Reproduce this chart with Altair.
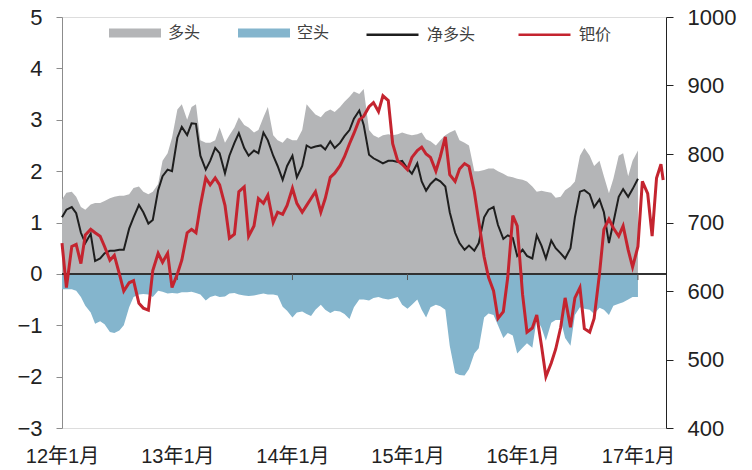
import altair as alt
import pandas as pd

FONT = "Liberation Sans, Arial, Noto Sans CJK SC, sans-serif"

# semi-monthly date grid (1st and 15th of each month) starting Jan 2012
def semi_monthly(n):
    out = []
    y, m = 2012, 1
    while len(out) < n:
        for d in (1, 15):
            out.append(f"{y}/{m:02d}/{d:02d}")
        m += 1
        if m > 12:
            m, y = 1, y + 1
    return out[:n]

# 多头 (long positions)
long_pos = [
    1.45, 1.58, 1.60, 1.50, 1.30, 1.25, 1.35, 1.38, 1.38, 1.42,
    1.47, 1.50, 1.52, 1.52, 1.55, 1.67, 1.70, 1.60, 1.55, 1.60,
    1.75, 2.20, 2.35, 2.65, 3.20, 3.30, 3.00, 3.25, 3.30, 2.60,
    2.55, 2.55, 2.60, 2.85, 2.55, 2.70, 2.85, 3.05, 2.90, 2.85,
    2.75, 2.80, 3.05, 3.25, 2.70, 2.60, 2.55, 2.65, 2.60, 2.60,
    2.80, 3.30, 3.20, 3.10, 3.05, 3.15, 3.20, 3.15, 3.25, 3.35,
    3.45, 3.55, 3.50, 3.60, 2.80, 2.70, 2.65, 2.70, 2.72, 2.70,
    2.72, 2.75, 2.72, 2.70, 2.72, 2.75, 2.62, 2.58, 2.50, 2.60,
    2.70, 2.75, 2.80, 2.60, 2.55, 2.50, 2.00, 2.00, 2.02, 2.05,
    2.05, 2.00, 1.95, 1.90, 1.88, 1.85, 1.83, 1.80, 1.70, 1.60,
    1.62, 1.60, 1.58, 1.48, 1.50, 1.63, 1.70, 1.80, 2.30, 2.45,
    2.30, 2.10, 2.20, 1.90, 1.57, 1.85, 2.30, 2.35, 1.90, 2.20,
    2.40,
]

# 空头 (short positions)
short_pos = [
    -0.30, -0.30, -0.30, -0.33, -0.45, -0.62, -0.75, -0.97, -0.92, -0.98,
    -1.13, -1.15, -1.10, -1.00, -0.65, -0.45, -0.40, -0.39, -0.40, -0.45,
    -0.33, -0.35, -0.38, -0.37, -0.38, -0.36, -0.36, -0.35, -0.37, -0.40,
    -0.52, -0.45, -0.42, -0.45, -0.44, -0.38, -0.37, -0.40, -0.42, -0.43,
    -0.42, -0.40, -0.38, -0.40, -0.40, -0.42, -0.64, -0.72, -0.85, -0.75,
    -0.73, -0.78, -0.82, -0.70, -0.60, -0.70, -0.76, -0.72, -0.73, -0.78,
    -0.88, -0.65, -0.50, -0.50, -0.52, -0.47, -0.45, -0.48, -0.50, -0.48,
    -0.45, -0.60, -0.68, -0.60, -0.50, -0.70, -0.85, -0.65, -0.60, -0.63,
    -0.70, -1.40, -1.93, -1.97, -1.98, -1.85, -1.55, -1.45, -0.85, -0.77,
    -0.80, -1.00, -1.25, -1.15, -1.20, -1.55, -1.44, -1.35, -1.44, -0.88,
    -1.05, -1.30, -0.95, -0.90, -0.90, -1.25, -1.40, -0.80, -0.65, -0.68,
    -0.70, -0.78, -0.66, -0.70, -0.80, -0.62, -0.58, -0.55, -0.50, -0.45,
    -0.45,
]

# 净多头 (net long)
net_pos = [
    1.10, 1.25, 1.30, 1.18, 0.80, 0.60, 0.78, 0.25, 0.30, 0.40,
    0.45, 0.45, 0.47, 0.47, 0.88, 1.10, 1.34, 1.20, 0.98, 1.05,
    1.63, 1.90, 2.03, 2.00, 2.65, 2.86, 2.70, 2.93, 2.92, 2.30,
    2.03, 2.20, 2.45, 2.35, 1.96, 2.30, 2.55, 2.74, 2.45, 2.30,
    2.40, 2.35, 2.75, 2.60, 2.30, 2.10, 1.83, 2.10, 2.30, 1.88,
    2.10, 2.50, 2.45, 2.48, 2.50, 2.42, 2.58, 2.45, 2.55, 2.68,
    2.80, 3.02, 3.18, 2.90, 2.32, 2.25, 2.20, 2.15, 2.20, 2.20,
    2.18, 2.20, 2.05, 1.95, 2.15, 1.80, 1.62, 1.75, 1.85, 1.80,
    1.70, 1.20, 0.80, 0.60, 0.47, 0.55, 0.45, 0.60, 1.10, 1.25,
    1.30, 0.95, 0.68, 0.75, 0.70, 0.35, 0.47, 0.35, 0.30, 0.75,
    0.55, 0.30, 0.65, 0.50, 0.40, 0.30, 0.50, 1.10, 1.60, 1.63,
    1.55, 1.30, 1.45, 1.20, 0.60, 1.00, 1.50, 1.65, 1.50, 1.65,
    1.85,
]

# 钯价 (palladium price, right axis)
price = [
    670, 605, 665, 668, 640, 682, 690, 685, 680, 665,
    645, 652, 625, 600, 612, 615, 582, 575, 572, 630,
    655, 642, 655, 605, 625, 645, 685, 690, 685, 725,
    765, 755, 765, 755, 725, 677, 683, 745, 752, 680,
    695, 735, 728, 740, 700, 715, 712, 725, 750, 728,
    715, 725, 735, 745, 715, 735, 766, 772, 783, 796,
    815, 830, 850, 855, 869, 875, 862, 885, 878, 815,
    790, 785, 777, 795, 805, 810, 800, 795, 775, 796,
    825, 770, 760, 778, 786, 782, 745, 702, 650, 620,
    600, 560, 570, 620, 710, 695, 595, 540, 546, 565,
    520, 475, 495, 515, 547, 590, 547, 590, 605, 545,
    540, 560, 625, 690, 705, 692, 680, 695, 660, 635,
    665, 760, 742, 680, 765, 785, 762,
]

grid = semi_monthly(126)
pos_dates = grid[:len(long_pos)]
price_dates = grid + ["2017/03/22"]

year_ticks = ["2013/01/01", "2014/01/01", "2015/01/01", "2016/01/01", "2017/01/01"]

pos_df = pd.DataFrame({"date": pos_dates, "long": long_pos, "short": short_pos, "net": net_pos})
price_df = pd.DataFrame({"date": price_dates, "price": price})
tick_df = pd.DataFrame({"date": year_ticks})

x_scale = alt.Scale(domain=[alt.DateTime(year=2012, month=1, date=1),
                            alt.DateTime(year=2017, month=3, date=31)], nice=False)
yl_scale = alt.Scale(domain=[-3, 5], nice=False, zero=False)
yr_scale = alt.Scale(domain=[400, 1000], nice=False, zero=False)

x_axis = alt.Axis(format="%y年%-m月", formatType="time",
                  tickCount={"interval": "year", "step": 1},
                  domain=False, ticks=False, labelPadding=18, labelFontSize=20,
                  labelColor="#222222", labelFont=FONT, grid=False, title=None,
                  labelOverlap=False, labelFlush=False)
yl_axis = alt.Axis(values=list(range(-3, 6)), tickSize=6, labelPadding=14,
                   domainColor="#8c8c8c", tickColor="#8c8c8c", labelFontSize=22,
                   labelColor="#222222", labelFont=FONT, grid=False, title=None)
yr_axis = alt.Axis(orient="right", values=list(range(400, 1001, 100)), format="d",
                   tickSize=7, labelPadding=14, domainColor="#222222", tickColor="#222222",
                   labelFontSize=22, labelColor="#222222", labelFont=FONT,
                   grid=False, title=None)

fill_legend = alt.Legend(orient="none", legendX=47, legendY=-10, direction="horizontal",
                         title=None, symbolType="M-1,-0.17L1,-0.17L1,0.17L-1,0.17Z",
                         symbolSize=2704, symbolStrokeWidth=0, symbolOpacity=1,
                         labelFontSize=16, labelColor="#404040", labelFont=FONT,
                         labelOffset=7, columnPadding=37)
stroke_legend = alt.Legend(orient="none", legendX=303, legendY=-10, direction="horizontal",
                           title=None, symbolType="stroke", symbolSize=2704,
                           symbolStrokeWidth=2.5, labelFontSize=16, labelColor="#404040",
                           labelFont=FONT, labelOffset=7, columnPadding=37)

fill_scale = alt.Scale(domain=["多头", "空头"], range=["#b4b5b7", "#84b5cd"])
stroke_scale = alt.Scale(domain=["净多头", "钯价"], range=["#1e1e1e", "#c4242f"])

X = alt.X("date:T", scale=x_scale, axis=x_axis)

base = alt.Chart(pos_df)

gray = base.mark_area(opacity=1).transform_calculate(s="'多头'").encode(
    x=X,
    y=alt.Y("long:Q", scale=yl_scale, axis=yl_axis, stack=None),
    fill=alt.Fill("s:N", scale=fill_scale, legend=fill_legend),
)
blue = base.mark_area(opacity=1).transform_calculate(s="'空头'").encode(
    x=X,
    y=alt.Y("short:Q", scale=yl_scale, axis=yl_axis, stack=None),
    fill=alt.Fill("s:N", scale=fill_scale, legend=fill_legend),
)
zero = alt.Chart(pos_df).mark_rule(color="#333333", strokeWidth=1).encode(
    y=alt.datum(0, scale=yl_scale, axis=yl_axis),
)
ticks = alt.Chart(tick_df).mark_rule(color="#555555", strokeWidth=1).encode(
    x=X,
    y=alt.datum(0, scale=yl_scale, axis=yl_axis),
    y2=alt.datum(-0.12),
)
net = base.mark_line(strokeWidth=2).transform_calculate(s="'净多头'").encode(
    x=X,
    y=alt.Y("net:Q", scale=yl_scale, axis=yl_axis),
    stroke=alt.Stroke("s:N", scale=stroke_scale, legend=stroke_legend),
)

left = alt.layer(gray, blue, zero, ticks, net)

red = alt.Chart(price_df).mark_line(strokeWidth=3).transform_calculate(s="'钯价'").encode(
    x=X,
    y=alt.Y("price:Q", scale=yr_scale, axis=yr_axis),
    stroke=alt.Stroke("s:N", scale=stroke_scale, legend=stroke_legend),
)

chart = alt.layer(left, red).resolve_scale(y="independent").properties(
    width=604, height=411,
    autosize=alt.AutoSizeParams(type="none"),
    padding={"left": 54, "top": 9, "right": 78, "bottom": 42},
).configure_view(stroke=None).configure(font=FONT)

chart.save("out.html", embed_options={"renderer": "svg", "actions": False})
